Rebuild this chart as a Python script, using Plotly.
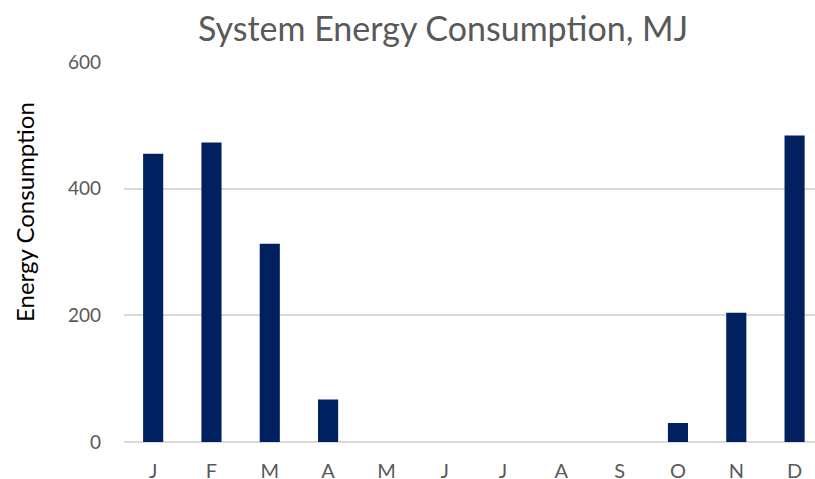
import plotly.graph_objects as go

months = ["J", "F", "M", "A", "M", "J", "J", "A", "S", "O", "N", "D"]
energy_mj = [455, 473, 313, 67, 0, 0, 0, 0, 0, 30, 204, 484]
y_ticks = [0, 200, 400, 600]

x_pos = list(range(len(months)))

W, H = 815, 479

fig = go.Figure(
    go.Bar(
        x=x_pos,
        y=energy_mj,
        width=0.345,
        marker=dict(color="#002060", line=dict(width=0)),
    )
)

font_family = "Lato, 'Open Sans', sans-serif"
grey = "#595959"

fig.update_layout(
    width=W,
    height=H,
    margin=dict(l=124, r=0, t=62, b=37),
    paper_bgcolor="white",
    plot_bgcolor="white",
    showlegend=False,
    title=dict(
        text="System Energy Consumption, MJ",
        x=443 / W,
        xanchor="center",
        y=1 - 29 / H,
        yanchor="middle",
        font=dict(family=font_family, size=34, color=grey),
    ),
    font=dict(family=font_family, color=grey),
    annotations=[
        dict(
            text="Energy Consumption",
            xref="paper",
            yref="paper",
            x=(24 - 124) / (W - 124),
            y=(H - 37 - 212) / (H - 62 - 37),
            xanchor="center",
            yanchor="middle",
            textangle=-90,
            showarrow=False,
            font=dict(family=font_family, size=24, color="black"),
        )
    ],
)

fig.update_xaxes(
    tickmode="array",
    tickvals=x_pos,
    ticktext=months,
    range=[-0.5, 11.35],
    showgrid=False,
    showline=False,
    zeroline=False,
    ticks="",
    automargin=False,
    ticklabelstandoff=15,
    tickfont=dict(family=font_family, size=20, color=grey),
)

fig.update_yaxes(
    range=[0, 600],
    tickmode="array",
    tickvals=y_ticks,
    showgrid=True,
    gridcolor="#d9d9d9",
    gridwidth=1.5,
    zeroline=True,
    zerolinecolor="#d9d9d9",
    zerolinewidth=1.5,
    showline=False,
    ticks="",
    automargin=False,
    ticklabelstandoff=22,
    tickfont=dict(family=font_family, size=19, color=grey),
)

fig.write_html("out.html")
